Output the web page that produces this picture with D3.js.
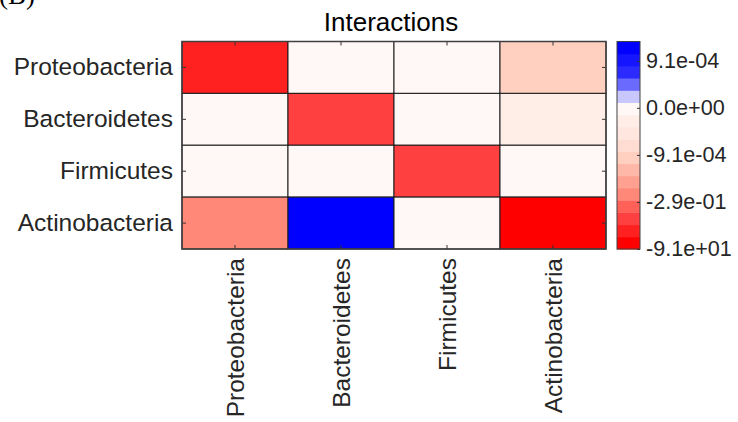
<!DOCTYPE html>
<html>
<head>
<meta charset="utf-8">
<script src="https://cdn.jsdelivr.net/npm/d3@7"></script>
<style>
  body { margin: 0; background: #fff; }
  text { font-family: 'Liberation Sans', Arial, sans-serif; fill: #262626; }
</style>
</head>
<body>
<svg id="chart" width="738" height="422"></svg>
<script>
// phyla on both axes (rows = affected, cols = affecting)
var rowNames = ['Proteobacteria', 'Bacteroidetes', 'Firmicutes', 'Actinobacteria']
var colNames = ['Proteobacteria', 'Bacteroidetes', 'Firmicutes', 'Actinobacteria']

// interaction values
var interactions = [
  [-55, 0, 0, -0.03],
  [0, -30, 0, -2.7e-4],
  [0, 0, -30, 0],
  [-0.24, 1.2e-3, 0, -91]
]

// colorbar ticks (bottom -> top)
var cbTickValues = [-91, -0.29, -9.1e-4, 0, 9.1e-4]
var cbTickLabels = ['-9.1e+01', '-2.9e-01', '-9.1e-04', '0.0e+00', '9.1e-04']

// colormap bands, bottom -> top
var bandColors = [
  '#ff0000', '#ff2020', '#ff4040', '#ff6058', '#ff8878', '#ffa090',
  '#ffb8a8', '#ffcfc0', '#ffdcd2', '#ffe6de', '#ffeee8', '#fff8f6',
  '#c8c8ff', '#6a6aff', '#2b2bff', '#1515ff', '#0000ff'
]

var svg = d3.select('#chart')

// note: "top" is taken by window.top, so prefix everything
var plotLeft = 182, plotRight = 606, plotTop = 41.5, plotBottom = 249
var cbLeft = 617, cbRight = 640
var cbTopPos = 4.41 // colorbar extends a bit past the last tick

var xScale = d3.scaleBand().domain(colNames).range([plotLeft, plotRight])
var yScale = d3.scaleBand().domain(rowNames).range([plotTop, plotBottom])

// value -> colorbar position (tick index units), piecewise
var posScale = d3.scaleLinear().domain(cbTickValues).range([0, 1, 2, 3, 4])
var colorScale = d3.scaleQuantize().domain([0, cbTopPos]).range(bandColors)
var cbY = d3.scaleLinear().domain([0, cbTopPos]).range([plotBottom, plotTop])

// (B) panel label, cut off at the top
svg.append('text')
  .text('(B)')
  .attr('x', -1)
  .attr('y', 4)
  .style('font-family', "'Liberation Serif', 'Times New Roman', serif")
  .style('fill', '#000')
  .attr('font-size', '27px')

// title
svg.append('text')
  .text('Interactions')
  .attr('x', (plotLeft + plotRight) / 2 - 3)
  .attr('y', 31)
  .attr('text-anchor', 'middle')
  .attr('font-size', '26px')
  .style('fill', '#000')

// cells
var cells = []
interactions.forEach(function(row, i) {
  row.forEach(function(v, j) {
    cells.push({ row: rowNames[i], col: colNames[j], value: v })
  })
})

svg.append('g')
  .selectAll('rect')
  .data(cells)
  .enter()
  .append('rect')
  .attr('x', d => xScale(d.col))
  .attr('y', d => yScale(d.row))
  .attr('width', xScale.bandwidth())
  .attr('height', yScale.bandwidth())
  .attr('fill', d => colorScale(posScale(d.value)))
  .attr('stroke', '#1a1a1a')
  .attr('stroke-width', 1)

// axes with inward ticks
var xAxis = d3.axisBottom(xScale).tickSize(-4).tickPadding(9)
var xg = svg.append('g')
  .attr('transform', 'translate(0,' + plotBottom + ')')
  .call(xAxis)
xg.selectAll('text')
  .attr('transform', 'rotate(-90)')
  .attr('text-anchor', 'end')
  .attr('x', -9)
  .attr('y', 0)
  .attr('dy', '0.35em')
  .attr('font-size', '24.5px')

svg.append('g')
  .attr('transform', 'translate(0,' + plotTop + ')')
  .call(d3.axisTop(xScale).tickSize(-4).tickFormat(''))

svg.append('g')
  .attr('transform', 'translate(' + plotLeft + ',0)')
  .call(d3.axisLeft(yScale).tickSize(-4).tickPadding(9))
  .selectAll('text')
  .attr('font-size', '24.5px')

svg.append('g')
  .attr('transform', 'translate(' + plotRight + ',0)')
  .call(d3.axisRight(yScale).tickSize(-4).tickFormat(''))

svg.selectAll('.domain').remove()
svg.selectAll('.tick line').attr('stroke', '#333')
svg.selectAll('g text').style('font-family', "'Liberation Sans', Arial, sans-serif")

// axes box
svg.append('rect')
  .attr('x', plotLeft)
  .attr('y', plotTop)
  .attr('width', plotRight - plotLeft)
  .attr('height', plotBottom - plotTop)
  .attr('fill', 'none')
  .attr('stroke', '#404040')
  .attr('stroke-width', 1.5)

// colorbar bands
var bandStep = cbTopPos / bandColors.length
svg.append('g')
  .selectAll('rect')
  .data(bandColors)
  .enter()
  .append('rect')
  .attr('x', cbLeft)
  .attr('y', (d, i) => cbY((i + 1) * bandStep))
  .attr('width', cbRight - cbLeft)
  .attr('height', (d, i) => cbY(i * bandStep) - cbY((i + 1) * bandStep) + 0.5)
  .attr('fill', d => d)

svg.append('rect')
  .attr('x', cbLeft)
  .attr('y', plotTop)
  .attr('width', cbRight - cbLeft)
  .attr('height', plotBottom - plotTop)
  .attr('fill', 'none')
  .attr('stroke', '#404040')
  .attr('stroke-width', 1)

var cbAxis = d3.axisRight(cbY)
  .tickValues(posScale.range())
  .tickSize(-3)
  .tickPadding(6)
  .tickFormat((d, i) => cbTickLabels[i])

var cbg = svg.append('g')
  .attr('transform', 'translate(' + cbRight + ',0)')
  .call(cbAxis)
cbg.select('.domain').remove()
cbg.selectAll('.tick line').attr('stroke', '#333')
cbg.selectAll('text')
  .attr('font-size', '21.6px')
  .style('font-family', "'Liberation Sans', Arial, sans-serif")
</script>
</body>
</html>
